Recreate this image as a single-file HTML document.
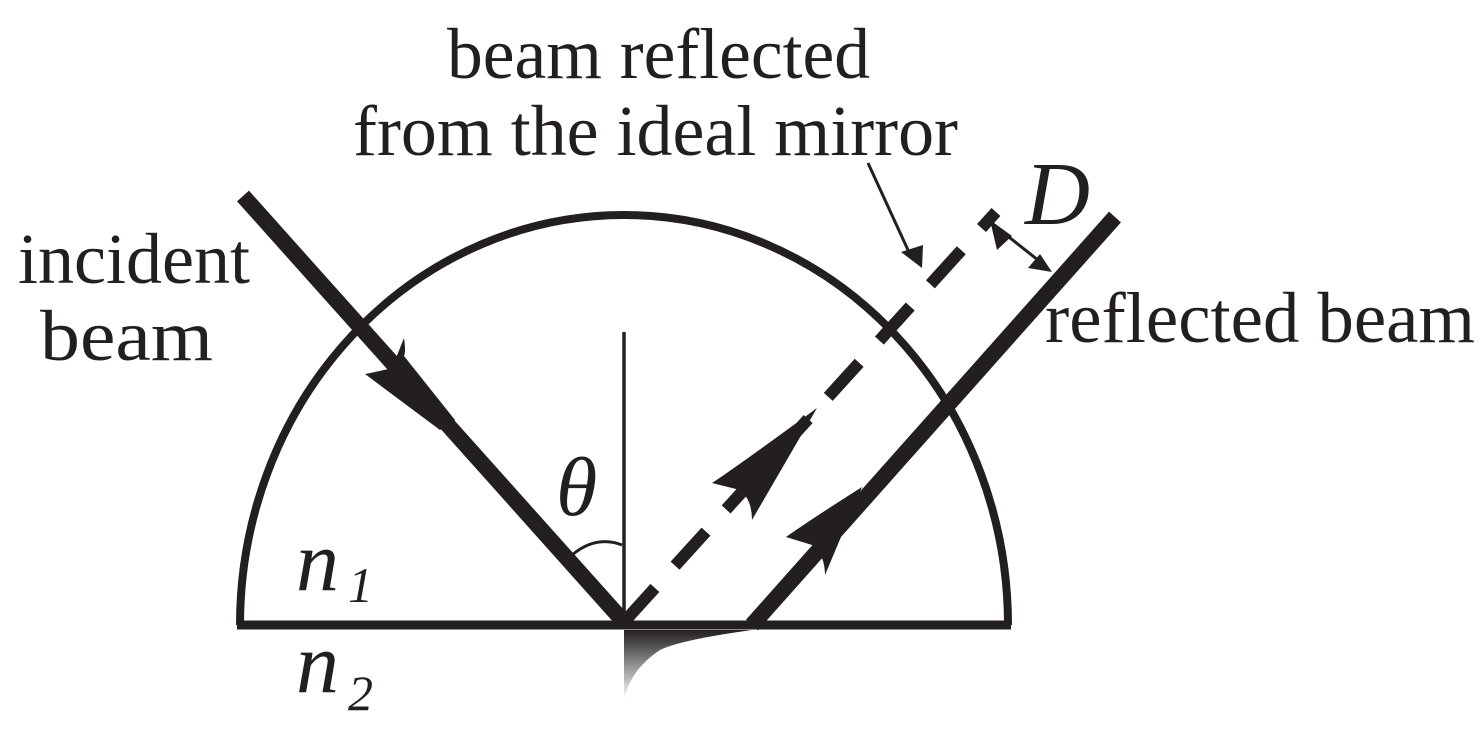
<!DOCTYPE html>
<html><head><style>body{margin:0;background:#fff}svg{display:block}</style></head><body>
<svg width="1484" height="731" viewBox="0 0 1484 731" xmlns="http://www.w3.org/2000/svg">
<defs>
<linearGradient id="g" x1="0" y1="0" x2="0" y2="1">
<stop offset="0" stop-color="#231f20"/><stop offset="1" stop-color="#fff"/>
</linearGradient>
</defs>
<g fill="none" stroke="#231f20">
<path d="M240,625 A384,410 0 0 1 1008,625" stroke-width="8"/>
<line x1="237" y1="625" x2="1011" y2="625" stroke-width="9"/>
<line x1="624" y1="332" x2="624" y2="625" stroke-width="3.5"/>
<line x1="243" y1="196" x2="624" y2="622" stroke-width="16"/>
<line x1="752" y1="625" x2="1115" y2="217" stroke-width="16"/>
<line x1="624" y1="622" x2="996" y2="212" stroke-width="12" stroke-dasharray="46 30"/>
<path d="M572,555 Q596,535 622,545" stroke-width="3"/>
<line x1="868" y1="163" x2="908" y2="250" stroke-width="3"/>
<line x1="1000" y1="230" x2="1043" y2="264" stroke-width="3"/>
</g>
<g fill="#231f20">
<path d="M365,374 Q385,370 392,368 L404,338 Q406,352 404,356 L455,420 L440,430Z"/>
<path d="M817,408 L752,520 Q752,500 740,490 L712,483 Q735,468 817,408Z"/>
<path d="M862,487 L825,575 Q825,555 812,545 L786,537 Q810,520 862,487Z"/>
<path d="M922,268 L901,252 L923,245Z"/>
<path d="M990,220 L997,250 L1012,236Z"/>
<path d="M1052,272 L1028,268 L1040,254Z"/>
<path d="M624,630 L752,630 Q680,640 660,650 Q630,670 624,700Z" fill="url(#g)"/>
</g>
<g font-family="Liberation Serif, serif" fill="#231f20" font-size="72">
<text x="447" y="78" textLength="423" lengthAdjust="spacingAndGlyphs">beam reflected</text>
<text x="353" y="155" textLength="605" lengthAdjust="spacingAndGlyphs">from the ideal mirror</text>
<text x="18" y="283" textLength="232" lengthAdjust="spacingAndGlyphs">incident</text>
<text x="40" y="360" textLength="173" lengthAdjust="spacingAndGlyphs">beam</text>
<text x="1045" y="342" textLength="430" lengthAdjust="spacingAndGlyphs">reflected beam</text>
<text x="556" y="515" font-style="italic" font-size="84">θ</text>
<text x="296" y="590" font-style="italic" font-size="86">n</text>
<text x="348" y="602" font-style="italic" font-size="50">1</text>
<text x="296" y="692" font-style="italic" font-size="86">n</text>
<text x="348" y="710" font-style="italic" font-size="50">2</text>
<text x="1025" y="224" font-style="italic" font-size="90">D</text>
</g>
</svg>
</body></html>
